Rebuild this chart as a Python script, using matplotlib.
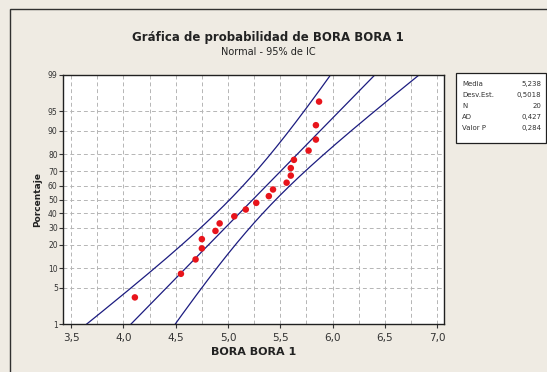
import numpy as np
import matplotlib
matplotlib.use("Agg")
import matplotlib.pyplot as plt
from matplotlib.patches import Rectangle
from statistics import NormalDist

# values
bora_x = [4.11, 4.55, 4.69, 4.75, 4.75, 4.88, 4.92, 5.06, 5.17, 5.27,
          5.39, 5.43, 5.56, 5.60, 5.60, 5.63, 5.77, 5.84, 5.84, 5.87]
bora_pct = [3.4, 8.3, 13.2, 18.1, 23.0, 27.9, 32.8, 37.7, 42.6, 47.5,
            52.5, 57.4, 62.3, 67.2, 72.1, 77.0, 81.9, 86.8, 91.7, 96.6]
media, desv, n_obs = 5.238, 0.5018, 20
stat_names = ["Media", "Desv.Est.", "N", "AD", "Valor P"]
stat_vals = ["5,238", "0,5018", "20", "0,427", "0,284"]
y_ticks = [1, 5, 10, 20, 30, 40, 50, 60, 70, 80, 90, 95, 99]
x_ticks = [3.5, 4.0, 4.5, 5.0, 5.5, 6.0, 6.5, 7.0]

nd = NormalDist()
def z(p):
    return nd.inv_cdf(p / 100.0)

W, H = 547, 372
fig = plt.figure(figsize=(W / 100, H / 100), dpi=100)
bg = "#EFEBE3"
fig.patch.set_facecolor(bg)

# outer frame (right/bottom edges fall outside the picture)
fig.add_artist(Rectangle((10 / W, -0.1), 1.2, 1 - 9 / H + 0.1, transform=fig.transFigure,
                         fill=False, edgecolor="#303030", linewidth=1.0))

ax = fig.add_axes([63.3 / W, 1 - 324.3 / H, (444 - 63.3) / W, (324.3 - 74.7) / H])
ax.set_facecolor("white")

# fitted line and 95% CI bands from the reported mean / std dev
zz = np.linspace(z(0.5), z(99.5), 300)
fit = media + desv * zz
se = desv / np.sqrt(n_obs) * np.sqrt(1 + zz ** 2 / 2)
line_col = "#1C1C80"
ax.plot(fit, zz, color=line_col, lw=0.9)
ax.plot(fit - 1.96 * se, zz, color=line_col, lw=0.9)
ax.plot(fit + 1.96 * se, zz, color=line_col, lw=0.9)

ax.scatter(bora_x, [z(p) for p in bora_pct], s=22, color="#E8141B",
           edgecolors="none", zorder=3)

ax.set_xlim(3.426, 7.064)
ax.set_ylim(z(1), z(99))
ax.set_xticks(x_ticks)
ax.set_xticklabels([f"{v:.1f}".replace(".", ",") for v in x_ticks])
ax.set_xticks(np.arange(3.5, 7.01, 0.25), minor=True)
ax.set_yticks([z(p) for p in y_ticks])
ax.set_yticklabels([str(p) for p in y_ticks])
ax.tick_params(axis="x", which="major", labelsize=7.5, length=3, width=0.8,
               colors="#333333", pad=3)
ax.tick_params(axis="x", which="minor", length=0)
ax.tick_params(axis="y", labelsize=5.5, length=3, width=0.8, colors="#333333", pad=1)
ax.grid(True, which="both", axis="x", color="#B5B5B5", linestyle=(0, (4, 3)), lw=0.7)
ax.grid(True, which="major", axis="y", color="#B5B5B5", linestyle=(0, (4, 3)), lw=0.7)
ax.set_axisbelow(True)
for sp in ax.spines.values():
    sp.set_color("#202020")
    sp.set_linewidth(1.0)

ax.set_xlabel("BORA BORA 1", fontsize=8, fontweight="bold", color="#222222", labelpad=3)
ax.set_ylabel("Porcentaje", fontsize=6.5, fontweight="bold", color="#222222", labelpad=4)

fig.text(268 / W, 1 - 37 / H, "Gráfica de probabilidad de BORA BORA 1", ha="center",
         va="center", fontsize=8.5, fontweight="bold", color="#222222")
fig.text(268 / W, 1 - 52 / H, "Normal - 95% de IC", ha="center", va="center",
         fontsize=7, color="#222222")

# stats box
fig.add_artist(Rectangle((456 / W, 1 - 143 / H), 90 / W, 70 / H, transform=fig.transFigure,
                         facecolor="white", edgecolor="#202020", linewidth=0.9))
for i, (nm, vl) in enumerate(zip(stat_names, stat_vals)):
    yy = 1 - (84 + i * 11) / H
    fig.text(462 / W, yy, nm, ha="left", va="center", fontsize=5, color="#333333")
    fig.text(541 / W, yy, vl, ha="right", va="center", fontsize=5, color="#333333")

fig.savefig("out.png", dpi=100, facecolor=bg)
